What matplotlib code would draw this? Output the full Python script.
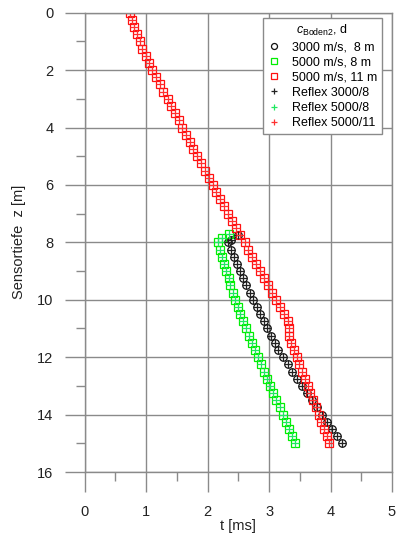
import matplotlib
matplotlib.use("Agg")
import matplotlib.pyplot as plt

plt.rcParams['font.family'] = ['Liberation Sans', 'DejaVu Sans']
plt.rcParams['mathtext.fontset'] = 'custom'
plt.rcParams['mathtext.rm'] = 'Liberation Sans'
plt.rcParams['mathtext.it'] = 'Liberation Sans:italic'

# ---- data ----
# 5000 m/s, 11 m (red)
z_red = [0.00, 0.25, 0.50, 0.75, 1.00, 1.25, 1.50, 1.75, 2.00, 2.25, 2.50, 2.75,
         3.00, 3.25, 3.50, 3.75, 4.00, 4.25, 4.50, 4.75, 5.00, 5.25, 5.50, 5.75,
         6.00, 6.25, 6.50, 6.75, 7.00, 7.25, 7.50, 7.75, 8.00, 8.25, 8.50, 8.75,
         9.00, 9.25, 9.50, 9.75, 10.00, 10.25, 10.50, 10.75, 11.00, 11.25, 11.50,
         11.75, 12.00, 12.25, 12.50, 12.75, 13.00, 13.25, 13.50, 13.75, 14.00,
         14.25, 14.50, 14.75, 15.00]
t_red = [0.73, 0.77, 0.81, 0.85, 0.90, 0.94, 0.99, 1.04, 1.10, 1.16, 1.22, 1.28,
         1.35, 1.41, 1.47, 1.53, 1.59, 1.65, 1.71, 1.77, 1.83, 1.89, 1.95, 2.02,
         2.08, 2.14, 2.20, 2.27, 2.33, 2.40, 2.46, 2.53, 2.60, 2.66, 2.73, 2.79,
         2.86, 2.92, 2.99, 3.05, 3.12, 3.18, 3.25, 3.31, 3.32, 3.33, 3.36,
         3.40, 3.45, 3.49, 3.54, 3.58, 3.63, 3.67, 3.72, 3.76, 3.81,
         3.85, 3.90, 3.94, 3.98]

# 3000 m/s, 8 m (black)
z_black = [7.75, 7.90, 8.00, 8.25, 8.50, 8.75, 9.00, 9.25, 9.50, 9.75, 10.00,
           10.25, 10.50, 10.75, 11.00, 11.25, 11.50, 11.75, 12.00, 12.25, 12.50,
           12.75, 13.00, 13.25, 13.50, 13.75, 14.00, 14.25, 14.50, 14.75, 15.00]
t_black = [2.49, 2.38, 2.33, 2.38, 2.43, 2.48, 2.53, 2.58, 2.63, 2.69, 2.74,
           2.80, 2.85, 2.91, 2.97, 3.03, 3.09, 3.15, 3.22, 3.30, 3.38,
           3.46, 3.54, 3.62, 3.70, 3.78, 3.86, 3.94, 4.02, 4.10, 4.18]

# 5000 m/s, 8 m (green)
z_green = [7.70, 7.85, 8.00, 8.25, 8.50, 8.75, 9.00, 9.25, 9.50, 9.75, 10.00,
           10.25, 10.50, 10.75, 11.00, 11.25, 11.50, 11.75, 12.00, 12.25, 12.50,
           12.75, 13.00, 13.25, 13.50, 13.75, 14.00, 14.25, 14.50, 14.75, 15.00]
t_green = [2.35, 2.24, 2.17, 2.20, 2.24, 2.27, 2.30, 2.34, 2.37, 2.41, 2.45,
           2.49, 2.53, 2.58, 2.62, 2.67, 2.72, 2.77, 2.82, 2.87, 2.92,
           2.97, 3.02, 3.07, 3.12, 3.17, 3.22, 3.27, 3.32, 3.37, 3.42]

series_labels = ['3000 m/s,  8 m', '5000 m/s, 8 m', '5000 m/s, 11 m']
reflex_labels = ['Reflex 3000/8', 'Reflex 5000/8', 'Reflex 5000/11']
x_ticks = [0, 1, 2, 3, 4, 5]
y_ticks = [0, 2, 4, 6, 8, 10, 12, 14, 16]

# ---- figure ----
fig = plt.figure(figsize=(3.97, 5.37), dpi=100)
ax = fig.add_axes([0.2134, 0.121, 0.7740, 0.8553])

gray = '#8a8a8a'
ms = 5.4
mew = 0.9

h1, = ax.plot(t_black, z_black, ls='none', marker='o', ms=ms, mfc='none',
              mec='#111111', mew=mew, label=series_labels[0])
h2, = ax.plot(t_green, z_green, ls='none', marker='s', ms=ms, mfc='none',
              mec='#00ee00', mew=mew, label=series_labels[1])
h3, = ax.plot(t_red, z_red, ls='none', marker='s', ms=ms, mfc='none',
              mec='#ff1010', mew=mew, label=series_labels[2])
h4, = ax.plot(t_black, z_black, ls='none', marker='+', ms=ms, color='#222222',
              mew=mew, label=reflex_labels[0])
h5, = ax.plot(t_green, z_green, ls='none', marker='+', ms=ms, color='#20e860',
              mew=mew, label=reflex_labels[1])
h6, = ax.plot(t_red, z_red, ls='none', marker='+', ms=ms, color='#ff3030',
              mew=mew, label=reflex_labels[2])

ax.set_xlim(0, 5)
ax.set_ylim(16, 0)
ax.set_xticks(x_ticks)
ax.set_yticks(y_ticks)
ax.set_xticks([0.5, 1.5, 2.5, 3.5, 4.5], minor=True)
ax.set_yticks([1, 3, 5, 7, 9, 11, 13, 15], minor=True)
ax.grid(True, which='major', color=gray, lw=1.0)
ax.set_axisbelow(True)

for sp in ax.spines.values():
    sp.set_color(gray)
    sp.set_linewidth(1.0)

ax.tick_params(which='major', length=14.4, width=1.0, color=gray,
               labelsize=10.5, labelcolor='#222222', direction='out')
ax.tick_params(which='minor', length=6.5, width=1.0, color=gray, direction='out')
ax.tick_params(axis='x', which='major', pad=9)
ax.tick_params(axis='y', which='major', pad=8)

ax.set_xlabel('t [ms]', fontsize=10.5, color='#222222', labelpad=0)
ax.set_ylabel('Sensortiefe  z [m]', fontsize=10.5, color='#222222', labelpad=8)

# legend markers: small open symbols as in the reference legend
leg = ax.legend(handles=[h1, h2, h3, h4, h5, h6],
                title=r'$c_{\mathrm{Boden2}}$, d',
                loc='upper right', bbox_to_anchor=(0.967, 0.988),
                borderaxespad=0, fontsize=9, title_fontsize=9,
                fancybox=False, framealpha=1, edgecolor=gray,
                handlelength=1.0, handletextpad=0.9, labelspacing=0.25,
                borderpad=0.4, markerscale=0.8)
leg.get_frame().set_linewidth(1.0)

fig.savefig('out.png', dpi=100)
